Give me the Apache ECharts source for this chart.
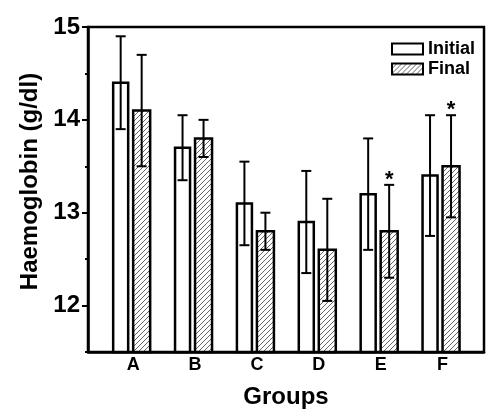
<!DOCTYPE html>
<html>
<head>
<meta charset="utf-8">
<script src="https://cdn.jsdelivr.net/npm/echarts@6/dist/echarts.min.js"></script>
<style>
  html, body { margin: 0; padding: 0; background: #fff; }
  #chart { width: 500px; height: 414px; }
</style>
</head>
<body>
<div id="chart"></div>
<script>
// group labels and haemoglobin values (g/dl), mean and error
const groups = ['A', 'B', 'C', 'D', 'E', 'F'];
const initialMean = [14.4, 13.7, 13.1, 12.9, 13.2, 13.4];
const initialErr = [0.5, 0.35, 0.45, 0.55, 0.6, 0.65];
const finalMean = [14.1, 13.8, 12.8, 12.6, 12.8, 13.5];
const finalErr = [0.6, 0.2, 0.2, 0.55, 0.5, 0.55];
const starredFinal = ['E', 'F'];
const yTicks = [12, 13, 14, 15];
const yMinorTicks = [11.5, 12.5, 13.5, 14.5];

const Y_MIN = 11.5;
const FONT = 'Liberation Sans, Arial, sans-serif';

// diagonal hatch for the "Final" bars
const hatch = document.createElement('canvas');
hatch.width = 5;
hatch.height = 5;
(function () {
  const ctx = hatch.getContext('2d');
  ctx.fillStyle = '#fff';
  ctx.fillRect(0, 0, 5, 5);
  ctx.strokeStyle = '#555';
  ctx.lineWidth = 0.9;
  ctx.beginPath();
  ctx.moveTo(-1, 6); ctx.lineTo(6, -1);
  ctx.moveTo(-1, 1); ctx.lineTo(1, -1);
  ctx.moveTo(4, 6); ctx.lineTo(6, 4);
  ctx.stroke();
})();
const hatchFill = { image: hatch, repeat: 'repeat' };

const toData = (means, errs, starred) => means.map((m, i) => [
  i + 1, m, errs[i], starred && starred.indexOf(groups[i]) >= 0 ? 1 : 0
]);

// bar + error bar (+ optional star), offsets in px from the group centre
const makeRender = (x0, x1, fill) => (params, api) => {
  const x = api.value(0), m = api.value(1), e = api.value(2);
  const top = api.coord([x, m]);
  const base = api.coord([x, Y_MIN]);
  const hi = api.coord([x, m + e]);
  const lo = api.coord([x, m - e]);
  const left = top[0] + x0, right = top[0] + x1;
  const mid = (left + right) / 2;
  const lineStyle = { stroke: '#000', lineWidth: 2 };
  const children = [
    {
      type: 'rect',
      shape: { x: left, y: top[1], width: right - left, height: base[1] - top[1] },
      style: { fill: fill, stroke: '#000', lineWidth: 2.5 }
    },
    { type: 'line', shape: { x1: mid, y1: hi[1], x2: mid, y2: lo[1] }, style: lineStyle },
    { type: 'line', shape: { x1: mid - 5, y1: hi[1], x2: mid + 5, y2: hi[1] }, style: lineStyle },
    { type: 'line', shape: { x1: mid - 5, y1: lo[1], x2: mid + 5, y2: lo[1] }, style: lineStyle }
  ];
  if (api.value(3)) {
    children.push({
      type: 'text',
      style: {
        text: '*', x: mid, y: hi[1] + 6, align: 'center', verticalAlign: 'bottom',
        font: 'bold 22px ' + FONT, fill: '#000'
      }
    });
  }
  return { type: 'group', children: children };
};

const chart = echarts.init(document.getElementById('chart'), null, { renderer: 'canvas' });

chart.setOption({
  animation: false,
  backgroundColor: '#fff',
  grid: {
    left: 88, right: 16, top: 27, bottom: 57,
    show: true, borderColor: '#000', borderWidth: 2.5, backgroundColor: 'transparent'
  },
  legend: {
    orient: 'vertical',
    right: 20,
    top: 35,
    itemWidth: 31,
    itemHeight: 11,
    itemGap: 2,
    icon: 'rect',
    textStyle: { fontFamily: FONT, fontWeight: 'bold', fontSize: 18, color: '#000' },
    data: [
      { name: 'Initial', itemStyle: { color: '#fff', borderColor: '#000', borderWidth: 2 } },
      { name: 'Final', itemStyle: { color: hatchFill, borderColor: '#000', borderWidth: 2 } }
    ]
  },
  xAxis: {
    type: 'value',
    min: 0.27,
    max: 6.67,
    name: 'Groups',
    nameLocation: 'middle',
    nameGap: 33,
    nameTextStyle: { fontFamily: FONT, fontWeight: 'bold', fontSize: 24, color: '#000' },
    axisLine: { show: true, lineStyle: { color: '#000', width: 2.5 } },
    axisTick: { show: false },
    splitLine: { show: false },
    axisLabel: {
      customValues: [1, 2, 3, 4, 5, 6],
      formatter: v => groups[Math.round(v) - 1],
      fontFamily: FONT, fontWeight: 'bold', fontSize: 18, color: '#000', margin: 4
    }
  },
  yAxis: [
    {
      type: 'value',
      min: Y_MIN,
      max: 15,
      name: 'Haemoglobin (g/dl)',
      nameLocation: 'middle',
      nameGap: 42,
      nameTextStyle: { fontFamily: FONT, fontWeight: 'bold', fontSize: 24, color: '#000', padding: [0, 0, 0, 16] },
      axisLine: { show: true, lineStyle: { color: '#000', width: 2.5 } },
      axisTick: { show: true, customValues: yTicks, length: 6, lineStyle: { color: '#000', width: 2 } },
      splitLine: { show: false },
      axisLabel: {
        customValues: yTicks,
        fontFamily: FONT, fontWeight: 'bold', fontSize: 24, color: '#000', margin: 8
      }
    },
    {
      type: 'value',
      min: Y_MIN,
      max: 15,
      position: 'left',
      axisLine: { show: false },
      axisTick: { show: true, customValues: yMinorTicks, length: 3, lineStyle: { color: '#000', width: 2 } },
      axisLabel: { show: false },
      splitLine: { show: false }
    }
  ],
  series: [
    {
      name: 'Initial',
      type: 'custom',
      renderItem: makeRender(-20, -5, '#fff'),
      encode: { x: 0, y: 1 },
      data: toData(initialMean, initialErr)
    },
    {
      name: 'Final',
      type: 'custom',
      renderItem: makeRender(0, 17, hatchFill),
      encode: { x: 0, y: 1 },
      data: toData(finalMean, finalErr, starredFinal)
    }
  ]
});
</script>
</body>
</html>
